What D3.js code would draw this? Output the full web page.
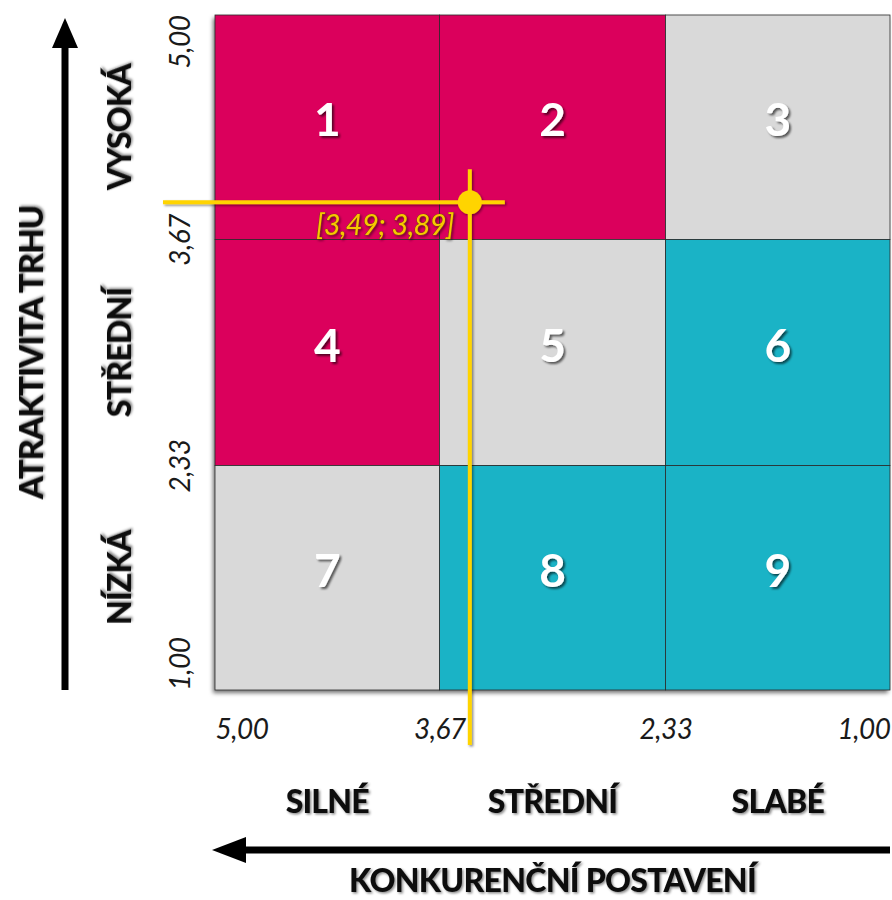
<!DOCTYPE html>
<html>
<head>
<meta charset="utf-8">
<script src="https://cdn.jsdelivr.net/npm/d3@7"></script>
<style>
  html, body { margin: 0; padding: 0; background: #ffffff; }
  svg { display: block; }
</style>
</head>
<body>
<script>
// GE / McKinsey matrix: market attractiveness vs. competitive position
const attractivenessTicks = [5.00, 3.67, 2.33, 1.00];
const positionTicks = [5.00, 3.67, 2.33, 1.00];
const rowLabels = ["VYSOKÁ", "STŘEDNÍ", "NÍZKÁ"];
const colLabels = ["SILNÉ", "STŘEDNÍ", "SLABÉ"];
const cellNumbers = [1, 2, 3, 4, 5, 6, 7, 8, 9];
const cellZones = ["grow", "grow", "hold", "grow", "hold", "harvest", "hold", "harvest", "harvest"];
const unitPosition = 3.49;
const unitAttractiveness = 3.89;
const yAxisTitle = "ATRAKTIVITA TRHU";
const xAxisTitle = "KONKURENČNÍ POSTAVENÍ";

const zoneColor = { grow: "#db005c", hold: "#d9d9d9", harvest: "#1ab3c6" };
const fmt = v => v.toFixed(2).replace(".", ",");

const W = 892, H = 900;
const gridLeft = 215, gridRight = 890, gridTop = 15, gridBottom = 690;

const svg = d3.select("body").append("svg").attr("width", W).attr("height", H);
const defs = svg.append("defs");

const boxShadow = defs.append("filter").attr("id", "boxShadow")
  .attr("x", "-5%").attr("y", "-5%").attr("width", "110%").attr("height", "110%");
boxShadow.append("feDropShadow").attr("dx", -2).attr("dy", 3).attr("stdDeviation", 2)
  .attr("flood-color", "#000").attr("flood-opacity", 0.55);

const textShadow = defs.append("filter").attr("id", "textShadow")
  .attr("x", "-20%").attr("y", "-20%").attr("width", "140%").attr("height", "140%");
textShadow.append("feDropShadow").attr("dx", 2).attr("dy", 2).attr("stdDeviation", 1.2)
  .attr("flood-color", "#000").attr("flood-opacity", 0.6);

const softShadow = defs.append("filter").attr("id", "softShadow")
  .attr("x", "-20%").attr("y", "-20%").attr("width", "140%").attr("height", "140%");
softShadow.append("feDropShadow").attr("dx", 1.5).attr("dy", 1.5).attr("stdDeviation", 1.2)
  .attr("flood-color", "#000").attr("flood-opacity", 0.45);

const x = d3.scaleLinear().domain([5, 1]).range([gridLeft, gridRight]);
const y = d3.scaleLinear().domain([5, 1]).range([gridTop, gridBottom]);

// cells
const cells = cellNumbers.map((n, i) => {
  const r = Math.floor(i / 3), c = i % 3;
  return {
    n, zone: cellZones[i],
    x0: x(positionTicks[c]), x1: x(positionTicks[c + 1]),
    y0: y(attractivenessTicks[r]), y1: y(attractivenessTicks[r + 1])
  };
});

const grid = svg.append("g");
grid.append("rect")
  .attr("x", x(5)).attr("y", y(5))
  .attr("width", x(1) - x(5)).attr("height", y(1) - y(5))
  .attr("fill", "#d9d9d9").attr("filter", "url(#boxShadow)");

grid.selectAll("rect.cell").data(cells).join("rect")
  .attr("class", "cell")
  .attr("x", d => d.x0).attr("y", d => d.y0)
  .attr("width", d => d.x1 - d.x0).attr("height", d => d.y1 - d.y0)
  .attr("fill", d => zoneColor[d.zone])
  .attr("stroke", "#2b2b2b").attr("stroke-width", 0.8);

grid.selectAll("text.num").data(cells).join("text")
  .attr("class", "num")
  .attr("x", d => (d.x0 + d.x1) / 2)
  .attr("y", d => (d.y0 + d.y1) / 2 + 9)
  .attr("text-anchor", "middle")
  .attr("font-family", "Lato, 'Open Sans', sans-serif")
  .attr("font-weight", 700)
  .attr("font-size", 46)
  .attr("fill", "#ffffff")
  .attr("filter", "url(#textShadow)")
  .text(d => d.n);

// tick labels along the bottom
const xAxis = d3.axisBottom(x).tickValues(positionTicks).tickFormat(fmt).tickSize(0).tickPadding(0);
const gx = svg.append("g").attr("transform", `translate(0,${gridBottom})`).call(xAxis);
gx.select(".domain").remove();
gx.selectAll(".tick text")
  .attr("y", 49)
  .attr("dy", 0)
  .attr("font-family", "Lato, 'Open Sans', sans-serif")
  .attr("font-style", "italic")
  .attr("font-weight", 400)
  .attr("font-size", 28)
  .attr("letter-spacing", -0.5)
  .attr("fill", "#1a1a1a")
  .attr("text-anchor", (d, i, a) => i === 0 ? "start" : i === a.length - 1 ? "end" : "middle");

// tick labels along the left side, rotated
const yAxis = d3.axisLeft(y).tickValues(attractivenessTicks).tickFormat(fmt).tickSize(0).tickPadding(0);
const gy = svg.append("g").attr("transform", `translate(${gridLeft},0)`).call(yAxis);
gy.select(".domain").remove();
gy.selectAll(".tick text")
  .attr("x", 0).attr("y", 0).attr("dy", 0)
  .attr("transform", "translate(-25,0) rotate(-90)")
  .attr("font-family", "Lato, 'Open Sans', sans-serif")
  .attr("font-style", "italic")
  .attr("font-weight", 400)
  .attr("font-size", 28)
  .attr("letter-spacing", -0.5)
  .attr("fill", "#1a1a1a")
  .attr("text-anchor", (d, i, a) => i === 0 ? "end" : i === a.length - 1 ? "start" : "middle");

// category labels
const boldFont = "Lato, 'Open Sans', sans-serif";
svg.append("g").selectAll("text").data(colLabels).join("text")
  .attr("x", (d, i) => (x(positionTicks[i]) + x(positionTicks[i + 1])) / 2)
  .attr("y", 813)
  .attr("text-anchor", "middle")
  .attr("font-family", boldFont).attr("font-weight", 900).attr("font-size", 32)
  .attr("letter-spacing", -0.8)
  .attr("fill", "#111").attr("filter", "url(#softShadow)")
  .text(d => d);

svg.append("g").selectAll("text").data(rowLabels).join("text")
  .attr("transform", (d, i) => `translate(131,${(y(attractivenessTicks[i]) + y(attractivenessTicks[i + 1])) / 2}) rotate(-90)`)
  .attr("text-anchor", "middle")
  .attr("font-family", boldFont).attr("font-weight", 900).attr("font-size", 32)
  .attr("letter-spacing", -0.8)
  .attr("fill", "#111").attr("filter", "url(#softShadow)")
  .text(d => d);

// axis titles with arrows
svg.append("text")
  .attr("transform", `translate(43,${(gridTop + gridBottom) / 2}) rotate(-90)`)
  .attr("text-anchor", "middle")
  .attr("font-family", boldFont).attr("font-weight", 900).attr("font-size", 33)
  .attr("letter-spacing", -1)
  .attr("fill", "#111").attr("filter", "url(#softShadow)")
  .text(yAxisTitle);

svg.append("text")
  .attr("x", (gridLeft + gridRight) / 2).attr("y", 892)
  .attr("text-anchor", "middle")
  .attr("font-family", boldFont).attr("font-weight", 900).attr("font-size", 32)
  .attr("letter-spacing", -0.7)
  .attr("fill", "#111").attr("filter", "url(#softShadow)")
  .text(xAxisTitle);

const arrows = svg.append("g").attr("fill", "#000").attr("stroke", "#000");
// vertical arrow (attractiveness grows upward)
arrows.append("line").attr("x1", 65).attr("x2", 65).attr("y1", gridBottom).attr("y2", 44)
  .attr("stroke-width", 7);
arrows.append("path").attr("stroke", "none")
  .attr("d", `M65,${gridTop + 3} L${65 - 13},48 L${65 + 13},48 Z`);
// horizontal arrow (position strengthens to the left)
arrows.append("line").attr("x1", gridRight).attr("x2", 244).attr("y1", 850).attr("y2", 850)
  .attr("stroke-width", 7);
arrows.append("path").attr("stroke", "none")
  .attr("d", `M212,850 L246,${850 - 13} L246,${850 + 13} Z`);

// evaluated unit: crosshair and marker
const px = x(unitPosition), py = y(unitAttractiveness);
const yellow = "#ffd400";
const cross = svg.append("g").attr("filter", "url(#softShadow)");
cross.append("line").attr("x1", gridLeft - 52).attr("x2", px + 35).attr("y1", py).attr("y2", py)
  .attr("stroke", yellow).attr("stroke-width", 4);
cross.append("line").attr("x1", px).attr("x2", px).attr("y1", py - 33).attr("y2", gridBottom + 55)
  .attr("stroke", yellow).attr("stroke-width", 4);
cross.append("circle").attr("cx", px).attr("cy", py).attr("r", 12).attr("fill", yellow);

svg.append("text")
  .attr("x", px - 16).attr("y", py + 33)
  .attr("text-anchor", "end")
  .attr("font-family", "Lato, 'Open Sans', sans-serif")
  .attr("font-style", "italic").attr("font-weight", 400).attr("font-size", 29)
  .attr("letter-spacing", -0.6)
  .attr("fill", "#f7c800")
  .attr("stroke", "#6b4c00").attr("stroke-width", 0.7).attr("paint-order", "stroke")
  .attr("filter", "url(#softShadow)")
  .text(`[${fmt(unitPosition)}; ${fmt(unitAttractiveness)}]`);
</script>
</body>
</html>
